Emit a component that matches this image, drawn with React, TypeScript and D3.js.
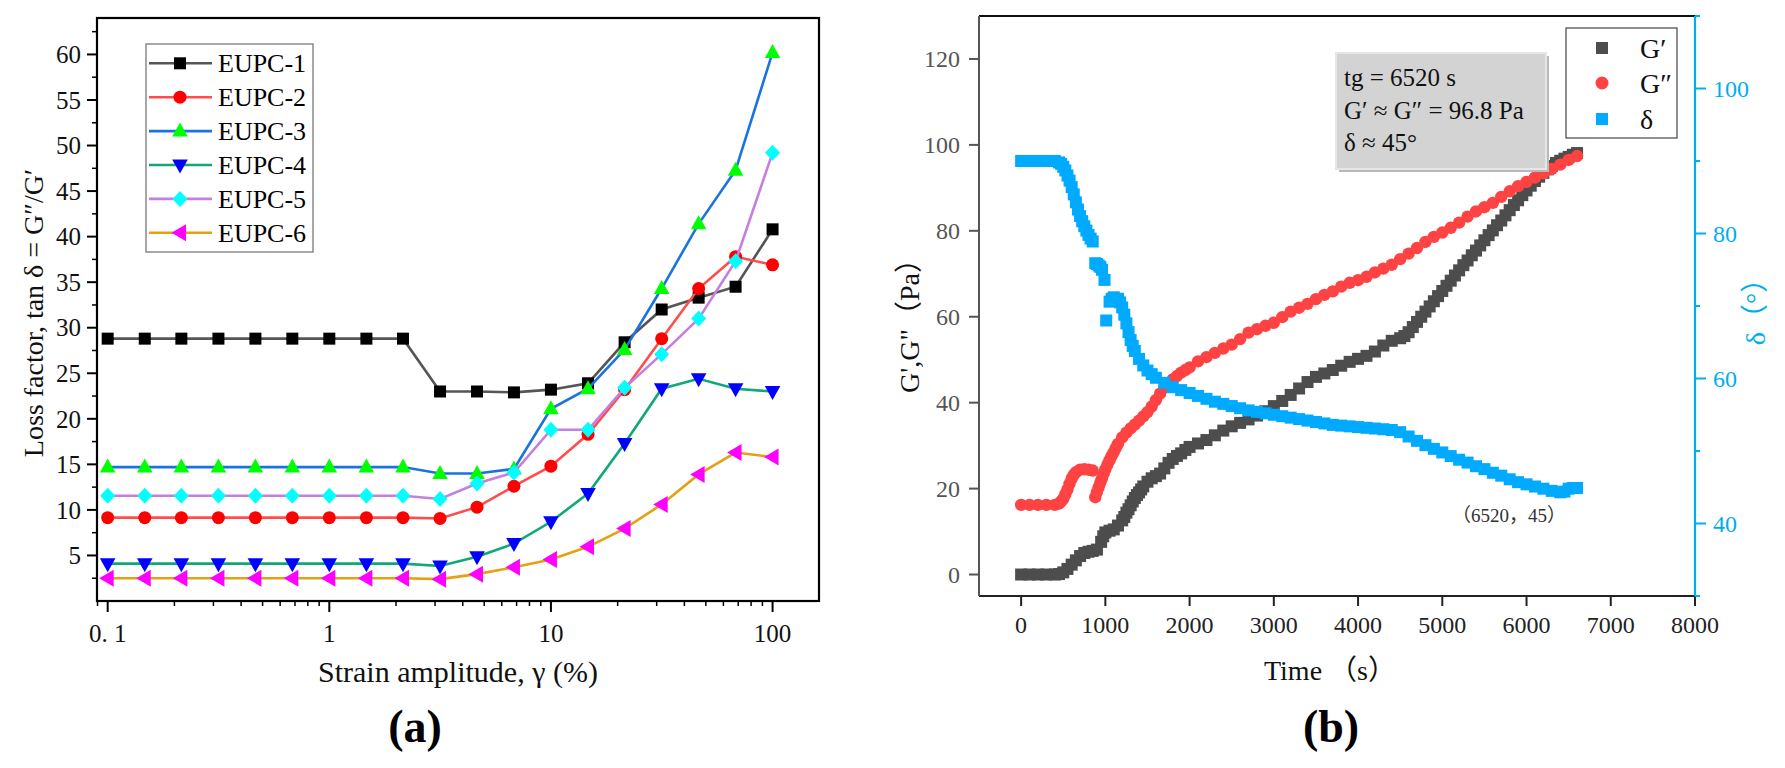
import React from 'react';
import * as d3 from 'd3';

// ---------- Panel (a) data ----------
const strain = [0.1, 0.147, 0.215, 0.316, 0.464, 0.681, 1, 1.47, 2.15, 3.16, 4.64, 6.81, 10, 14.7, 21.5, 31.6, 46.4, 68.1, 100];
const eupc1 = [28.8, 28.8, 28.8, 28.8, 28.8, 28.8, 28.8, 28.8, 28.8, 23.0, 23.0, 22.9, 23.2, 23.9, 28.4, 32.0, 33.3, 34.5, 40.8];
const eupc2 = [9.15, 9.15, 9.15, 9.15, 9.15, 9.15, 9.15, 9.15, 9.15, 9.06, 10.3, 12.6, 14.8, 18.3, 23.2, 28.8, 34.3, 37.8, 36.9];
const eupc3 = [14.7, 14.7, 14.7, 14.7, 14.7, 14.7, 14.7, 14.7, 14.7, 14.0, 14.0, 14.5, 21.1, 23.3, 27.6, 34.3, 41.4, 47.3, 60.2];
const eupc4 = [4.1, 4.1, 4.1, 4.1, 4.1, 4.1, 4.1, 4.1, 4.1, 3.85, 4.85, 6.3, 8.7, 11.8, 17.3, 23.3, 24.4, 23.3, 23.0];
const eupc5 = [11.55, 11.55, 11.55, 11.55, 11.55, 11.55, 11.55, 11.55, 11.55, 11.2, 12.9, 14.1, 18.8, 18.8, 23.4, 27.1, 31.0, 37.3, 49.2];
const eupc6 = [2.5, 2.5, 2.5, 2.5, 2.5, 2.5, 2.5, 2.5, 2.5, 2.4, 2.95, 3.7, 4.55, 5.95, 7.95, 10.6, 13.9, 16.3, 15.8];
const seriesNames = ['EUPC-1', 'EUPC-2', 'EUPC-3', 'EUPC-4', 'EUPC-5', 'EUPC-6'];
const lossTicks = [5, 10, 15, 20, 25, 30, 35, 40, 45, 50, 55, 60];
const strainTicks = [0.1, 1, 10, 100];
const strainTickLabels = ['0. 1', '1', '10', '100'];

// ---------- Panel (b) data: [time s, value] ----------
const gPrime: [number, number][] = [
  [0, 0], [100, 0], [200, 0], [300, 0], [400, 0], [450, 0.1], [500, 0.5], [550, 1.3], [600, 2.3], [650, 3.3],
  [700, 4.3], [750, 5.0], [800, 5.3], [850, 5.5], [900, 5.8], [950, 7.6], [975, 8.9], [1000, 9.8], [1050, 10.2], [1100, 10.5],
  [1150, 11.4], [1200, 12.6], [1225, 13.4], [1250, 14.4], [1275, 15.2], [1300, 16.1], [1325, 17.0], [1350, 17.8], [1375, 18.5],
  [1400, 19.1], [1425, 19.8], [1450, 20.5], [1500, 21.6],
  [1550, 22.4], [1600, 22.9], [1650, 23.5], [1700, 24.7], [1750, 26.0], [1800, 26.9], [1850, 27.6], [1900, 28.2],
  [1950, 29.0], [2000, 29.7], [2100, 30.5], [2200, 31.3], [2300, 32.4], [2400, 33.5], [2500, 34.5], [2600, 35.3],
  [2700, 36.1], [2800, 37.0], [2900, 38.0], [3000, 39.2], [3100, 40.4], [3200, 41.8], [3300, 43.3], [3400, 44.8],
  [3500, 46.0], [3600, 46.8], [3700, 47.6], [3800, 48.6], [3900, 49.5], [4000, 50.2], [4100, 50.9], [4200, 51.9],
  [4300, 53.3], [4400, 54.4], [4500, 55.0], [4550, 55.5], [4600, 56.4], [4650, 57.6], [4700, 58.8], [4750, 60.0],
  [4800, 61.2], [4850, 62.4], [4900, 63.6], [4950, 64.8], [5000, 66.0], [5050, 67.2], [5100, 68.4], [5150, 69.6],
  [5200, 70.8], [5250, 72.0], [5300, 73.1], [5350, 74.3], [5400, 75.4], [5450, 76.6], [5500, 77.8], [5550, 79.0],
  [5600, 80.1], [5650, 81.3], [5700, 82.4], [5750, 83.6], [5800, 84.8], [5850, 86.0], [5900, 87.1], [5950, 88.3],
  [6000, 89.4], [6050, 90.5], [6100, 91.6], [6150, 92.6], [6200, 93.5], [6250, 94.3], [6300, 95.1], [6350, 95.8],
  [6400, 96.3], [6450, 96.8], [6500, 97.2], [6550, 97.7], [6600, 98.1],
];
const gDouble: [number, number][] = [
  [0, 16.2], [100, 16.2], [200, 16.2], [300, 16.2], [400, 16.2], [450, 16.5], [475, 17.0], [500, 17.6], [525, 18.7],
  [550, 19.8], [575, 21.1], [600, 22.3], [625, 23.2], [650, 23.8], [700, 24.4], [750, 24.5], [800, 24.4], [850, 24.2],
  [880, 18.0], [900, 19.2], [920, 20.3], [940, 21.4], [960, 22.4], [980, 23.5], [1000, 24.5], [1025, 25.6],
  [1050, 26.6], [1075, 27.6], [1100, 28.5], [1125, 29.5], [1150, 30.4], [1200, 31.9], [1250, 33.0], [1300, 34.0],
  [1350, 34.9], [1400, 35.8], [1450, 36.8], [1500, 37.8], [1550, 39.1], [1600, 40.6], [1650, 42.1], [1700, 43.5],
  [1750, 44.5], [1800, 45.4], [1850, 46.2], [1900, 47.0], [1950, 47.6], [2000, 48.2], [2100, 49.6], [2200, 50.6],
  [2300, 51.6], [2400, 52.6], [2500, 53.5], [2600, 54.8], [2700, 56.3], [2800, 57.1], [2900, 57.9], [3000, 58.6],
  [3100, 59.9], [3200, 61.2], [3300, 62.1], [3400, 63.0], [3500, 64.1], [3600, 65.1], [3700, 65.9], [3800, 67.0],
  [3900, 67.9], [4000, 68.5], [4100, 69.3], [4200, 70.3], [4300, 71.2], [4400, 72.1], [4500, 73.4], [4600, 74.7],
  [4700, 76.0], [4800, 77.4], [4900, 78.6], [5000, 79.6], [5100, 80.7], [5200, 81.9], [5300, 83.3], [5400, 84.5],
  [5500, 85.5], [5600, 86.5], [5700, 87.9], [5800, 89.2], [5900, 90.4], [6000, 91.4], [6100, 92.4], [6200, 93.4],
  [6300, 94.4], [6400, 95.4], [6500, 96.5], [6600, 97.4],
];
const delta: [number, number][] = [
  [0, 90], [100, 90], [200, 90], [300, 90], [400, 90], [450, 89.8], [475, 89.6], [500, 89.2], [525, 88.7], [550, 88.0],
  [575, 87.3], [600, 86.4], [625, 85.4], [650, 84.3], [675, 83.3], [700, 82.4], [725, 81.7], [750, 81.0], [775, 80.4],
  [800, 79.8], [825, 79.3], [850, 78.9], [880, 75.9], [900, 75.8], [920, 75.6], [940, 75.4], [960, 75.0], [990, 73.6],
  [1010, 68.0], [1050, 70.6], [1075, 71.0], [1100, 71.2], [1150, 71.0], [1175, 70.5], [1200, 69.8], [1225, 68.8],
  [1250, 67.6], [1275, 66.4], [1300, 65.3], [1325, 64.5], [1350, 63.8], [1400, 62.7], [1450, 61.8], [1500, 61.1],
  [1550, 60.6], [1600, 60.1], [1700, 59.4], [1800, 58.8], [1900, 58.4], [2000, 58.0], [2100, 57.6],
  [2200, 57.2], [2300, 56.8], [2400, 56.5], [2500, 56.2], [2600, 55.9], [2700, 55.6], [2800, 55.4], [2900, 55.2],
  [3000, 55.0], [3100, 54.8], [3200, 54.6], [3300, 54.4], [3400, 54.2], [3500, 54.0], [3600, 53.8], [3700, 53.6],
  [3800, 53.5], [3900, 53.4], [4000, 53.3], [4100, 53.2], [4200, 53.1], [4300, 53.0], [4400, 52.9], [4500, 52.6],
  [4600, 52.0], [4700, 51.4], [4800, 50.8], [4900, 50.3], [5000, 49.8], [5100, 49.3], [5200, 48.8], [5300, 48.4],
  [5400, 47.9], [5500, 47.5], [5600, 47.0], [5700, 46.6], [5800, 46.1], [5900, 45.7], [6000, 45.4], [6100, 45.1],
  [6200, 44.8], [6300, 44.5], [6400, 44.3], [6450, 44.4], [6500, 44.8], [6550, 44.9], [6600, 44.9],
];
const timeTicks = [0, 1000, 2000, 3000, 4000, 5000, 6000, 7000, 8000];
const modTicks = [0, 20, 40, 60, 80, 100, 120];
const deltaTicks = [40, 60, 80, 100];
const deltaMinorTicks = [30, 50, 70, 90, 110];
const infoLines = ['tg = 6520 s', 'G\u2032 \u2248 G\u2033 = 96.8 Pa', '\u03b4 \u2248 45\u00b0'];
const legendB = ['G\u2032', 'G\u2033', '\u03b4'];

// ---------- styles ----------
const SERIF = "'Liberation Serif', 'Times New Roman', 'Noto Sans CJK SC', serif";
const lineColors = ['#555555', '#ff4d4d', '#1a74e0', '#10a878', '#c47fe0', '#e6a012'];
const markerColors = ['#000000', '#ff0000', '#00ff00', '#0000ff', '#00ffff', '#ff00ff'];
const shapes = ['square', 'circle', 'up', 'down', 'diamond', 'left'];
const GP_COLOR = '#4d4d4d';
const GDP_COLOR = '#ff4242';
const DELTA_COLOR = '#00aaff';
const DELTA_AXIS = '#00aef0';

function markerPath(shape: string): string {
  switch (shape) {
    case 'square': return 'M-6,-6h12v12h-12Z';
    case 'circle': return 'M6.5,0A6.5,6.5 0 1,1 -6.5,0A6.5,6.5 0 1,1 6.5,0Z';
    case 'up': return 'M0,-8.5L7.8,5.5L-7.8,5.5Z';
    case 'down': return 'M0,8.5L7.8,-5.5L-7.8,-5.5Z';
    case 'diamond': return 'M0,-8L7.5,0L0,8L-7.5,0Z';
    case 'left': return 'M-8.5,0L6,-8.5L6,8.5Z';
  }
  return '';
}

function PanelA() {
  const x = d3.scaleLog().domain([0.0895, 162]).range([97, 819]);
  const y = d3.scaleLinear().domain([0, 64]).range([601, 18]);
  const series = [eupc1, eupc2, eupc3, eupc4, eupc5, eupc6];
  const line = d3.line<number>().x((_, i) => x(strain[i])).y((d) => y(d));
  const minorX: number[] = [];
  for (let e = -2; e <= 2; e++) {
    for (let m = 2; m <= 9; m++) {
      const v = m * Math.pow(10, e);
      if (v >= 0.0895 && v <= 162) minorX.push(v);
    }
  }
  const minorY = d3.range(2.5, 64, 5);
  const [x0, x1] = x.range();
  const [yb, yt] = y.range();
  return (
    <g fontFamily={SERIF}>
      {minorX.map((v) => (
        <line key={'mx' + v} x1={x(v)} x2={x(v)} y1={yb} y2={yb + 5} stroke="#000" strokeWidth={1.5} />
      ))}
      {strainTicks.map((v, i) => (
        <g key={'tx' + v}>
          <line x1={x(v)} x2={x(v)} y1={yb} y2={yb + 11} stroke="#000" strokeWidth={2} />
          <text x={x(v)} y={642} textAnchor="middle" fontSize={25} fill="#111">{strainTickLabels[i]}</text>
        </g>
      ))}
      {minorY.map((v) => (
        <line key={'my' + v} x1={x0 - 5} x2={x0} y1={y(v)} y2={y(v)} stroke="#000" strokeWidth={1.5} />
      ))}
      {lossTicks.map((v) => (
        <g key={'ty' + v}>
          <line x1={x0 - 10} x2={x0} y1={y(v)} y2={y(v)} stroke="#000" strokeWidth={2} />
          <text x={x0 - 16} y={y(v)} dy="0.35em" textAnchor="end" fontSize={25} fill="#111">{v}</text>
        </g>
      ))}
      {series.map((s, si) => (
        <g key={'s' + si}>
          <path d={line(s) || ''} fill="none" stroke={lineColors[si]} strokeWidth={2.6} />
          {s.map((v, i) => (
            <path key={i} transform={`translate(${x(strain[i])},${y(v)})`} d={markerPath(shapes[si])} fill={markerColors[si]} />
          ))}
        </g>
      ))}
      <rect x={x0} y={yt} width={x1 - x0} height={yb - yt} fill="none" stroke="#000" strokeWidth={2.2} />
      <rect x={146} y={44} width={167} height={208} fill="#fff" stroke="#8a8a8a" strokeWidth={1.5} />
      {seriesNames.map((n, i) => {
        const ly = 63.3 + i * 33.9;
        return (
          <g key={n}>
            <line x1={149} x2={212} y1={ly} y2={ly} stroke={lineColors[i]} strokeWidth={2.6} />
            <path transform={`translate(180,${ly})`} d={markerPath(shapes[i])} fill={markerColors[i]} />
            <text x={218} y={ly} dy="0.35em" fontSize={26} fill="#000">{n}</text>
          </g>
        );
      })}
      <text x={458} y={682} textAnchor="middle" fontSize={30} fill="#111">Strain amplitude, {'\u03b3'} (%)</text>
      <text transform="translate(43,313) rotate(-90)" textAnchor="middle" fontSize={28} fill="#111">
        Loss factor, tan {'\u03b4'} = G{'\u2033'}/G{'\u2032'}
      </text>
      <text x={415} y={742} textAnchor="middle" fontSize={46} fontWeight="bold" fill="#000">(a)</text>
    </g>
  );
}

function PanelB() {
  const x = d3.scaleLinear().domain([-500, 8000]).range([979, 1695]);
  const y = d3.scaleLinear().domain([-5, 130]).range([596, 16]);
  const yd = d3.scaleLinear().domain([30, 110]).range([596, 16]);
  const [x0, x1] = x.range();
  const [yb, yt] = y.range();
  const boxX = 1336, boxY = 53, boxW = 210, boxH = 116;
  return (
    <g fontFamily={SERIF}>
      {gPrime.map((d, i) => (
        <rect key={'gp' + i} x={x(d[0]) - 6} y={y(d[1]) - 6} width={12} height={12} fill={GP_COLOR} />
      ))}
      {gDouble.map((d, i) => (
        <circle key={'gd' + i} cx={x(d[0])} cy={y(d[1])} r={6.2} fill={GDP_COLOR} />
      ))}
      {delta.map((d, i) => (
        <rect key={'dl' + i} x={x(d[0]) - 6} y={yd(d[1]) - 6} width={12} height={12} fill={DELTA_COLOR} />
      ))}
      <line x1={x0} x2={x1} y1={yt} y2={yt} stroke="#111" strokeWidth={2} />
      <line x1={x0} x2={x1} y1={yb} y2={yb} stroke="#222" strokeWidth={2} />
      <line x1={x0} x2={x0} y1={yt} y2={yb} stroke="#555" strokeWidth={2} />
      <line x1={x1} x2={x1} y1={yt} y2={yb} stroke={DELTA_AXIS} strokeWidth={2.2} />
      {timeTicks.map((v) => (
        <g key={'tt' + v}>
          <line x1={x(v)} x2={x(v)} y1={yb} y2={yb + 10} stroke="#222" strokeWidth={2} />
          <text x={x(v)} y={633} textAnchor="middle" fontSize={24} fill="#222">{v}</text>
        </g>
      ))}
      {modTicks.map((v) => (
        <g key={'mt' + v}>
          <line x1={x0 - 10} x2={x0} y1={y(v)} y2={y(v)} stroke="#555" strokeWidth={2} />
          <text x={x0 - 19} y={y(v)} dy="0.35em" textAnchor="end" fontSize={24} fill="#555">{v}</text>
        </g>
      ))}
      {deltaMinorTicks.map((v) => (
        <line key={'dm' + v} x1={x1} x2={x1 + 5} y1={yd(v)} y2={yd(v)} stroke={DELTA_AXIS} strokeWidth={2} />
      ))}
      {deltaTicks.map((v) => (
        <g key={'dt' + v}>
          <line x1={x1} x2={x1 + 11} y1={yd(v)} y2={yd(v)} stroke={DELTA_AXIS} strokeWidth={2} />
          <text x={x1 + 18} y={yd(v)} dy="0.35em" textAnchor="start" fontSize={24} fill={DELTA_AXIS}>{v}</text>
        </g>
      ))}
      <text x={1330} y={680} textAnchor="middle" fontSize={28} fill="#111">Time {'\uff08'}s{'\uff09'}</text>
      <text transform="translate(919,319) rotate(-90)" textAnchor="middle" fontSize={28} fill="#111">
        G',G"{'\uff08'}Pa{'\uff09'}
      </text>
      <text transform="translate(1765,305) rotate(-90)" textAnchor="middle" fontSize={28} fill={DELTA_AXIS}>
        {'\u03b4'}{'\uff08'}{'\u00b0'}{'\uff09'}
      </text>
      <text x={1331} y={742} textAnchor="middle" fontSize={46} fontWeight="bold" fill="#000">(b)</text>
      <rect x={boxX + 3} y={boxY + 3} width={boxW} height={boxH} fill="#b9b9b9" />
      <rect x={boxX} y={boxY} width={boxW} height={boxH} fill="#d3d3d3" stroke="#e6e6e6" strokeWidth={2} />
      {infoLines.map((t, i) => (
        <text key={t} x={boxX + 8} y={boxY + 33 + i * 32.6} fontSize={25} fill="#111">{t}</text>
      ))}
      <rect x={1566} y={28} width={111} height={110} fill="#fff" stroke="#444" strokeWidth={1.2} />
      <rect x={1596} y={42} width={12} height={12} fill={GP_COLOR} />
      <circle cx={1602} cy={83} r={6.5} fill={GDP_COLOR} />
      <rect x={1596} y={113} width={12} height={12} fill={DELTA_COLOR} />
      {legendB.map((t, i) => (
        <text key={t} x={1640} y={[48, 83, 119][i]} dy="0.35em" fontSize={28} fill="#111">{t}</text>
      ))}
      <text x={1452} y={522} fontSize={19} fill="#333">{'\uff08'}6520{'\uff0c'}45{'\uff09'}</text>
    </g>
  );
}

export default function App() {
  return (
    <svg width={1785} height={768} style={{ position: 'absolute', left: 0, top: 0, background: '#fff' }}>
      <rect x={0} y={0} width={1785} height={768} fill="#fff" />
      <PanelA />
      <PanelB />
    </svg>
  );
}
